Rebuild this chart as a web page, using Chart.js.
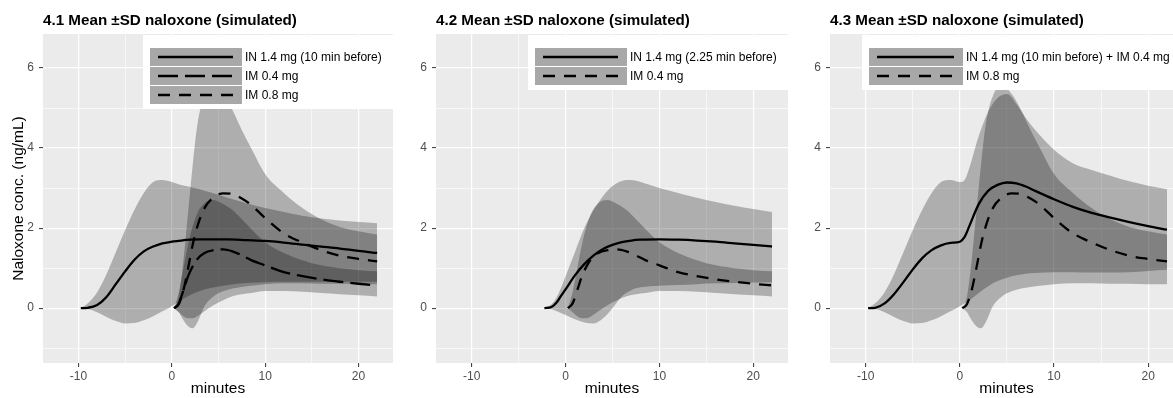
<!DOCTYPE html>
<html>
<head>
<meta charset="utf-8">
<script src="https://cdn.jsdelivr.net/npm/chart.js@4/dist/chart.umd.min.js"></script>
<style>
html, body { margin:0; padding:0; background:#fff; overflow:hidden; width:1173px; height:398px; }
.panel { position:absolute; top:0; }
</style>
</head>
<body>
<div class="panel" style="left:0px"><canvas id="c1" width="400" height="398"></canvas></div>
<div class="panel" style="left:400px"><canvas id="c2" width="395" height="398"></canvas></div>
<div class="panel" style="left:795px"><canvas id="c3" width="388" height="398"></canvas></div>
<script>
//---------------------------------------------DATA-------------------------------------------------
// minutes relative to the IM dose; values in ng/mL (mean, mean+SD, mean-SD)

var tIM     = [0.25, 0.75, 1.25, 1.75, 2.25, 2.75, 3.5, 4.5, 5.5, 6.5, 7.5, 8.5, 10, 12, 14, 16, 18, 20, 22];
var im04Mean = [0, 0.12, 0.45, 0.8, 1.05, 1.23, 1.38, 1.45, 1.47, 1.42, 1.32, 1.2, 1.07, 0.9, 0.8, 0.72, 0.66, 0.61, 0.57];
var im04Hi   = [0, 0.4, 1.0, 1.6, 2.05, 2.38, 2.62, 2.7, 2.6, 2.45, 2.22, 1.98, 1.65, 1.38, 1.2, 1.07, 1.0, 0.95, 0.92];
var im04Lo   = [0, -0.1, -0.2, -0.25, -0.25, -0.2, -0.08, 0.08, 0.2, 0.3, 0.35, 0.38, 0.43, 0.43, 0.41, 0.38, 0.35, 0.32, 0.29];
var im08Mean = [0, 0.1, 0.45, 1.0, 1.6, 2.05, 2.5, 2.77, 2.87, 2.85, 2.74, 2.58, 2.25, 1.87, 1.64, 1.45, 1.31, 1.23, 1.17];
var im08Hi   = [0, 0.3, 1.2, 2.4, 3.6, 4.6, 5.3, 5.55, 5.35, 4.95, 4.45, 4.0, 3.35, 2.88, 2.5, 2.22, 2.03, 1.92, 1.84];
var im08Lo   = [0, -0.1, -0.3, -0.45, -0.5, -0.35, 0.05, 0.3, 0.42, 0.49, 0.53, 0.56, 0.6, 0.62, 0.62, 0.61, 0.61, 0.6, 0.6];

var tIN10    = [-9.75, -9, -8, -7, -6, -5, -4, -3, -2, -1, 0, 1, 2, 3, 4, 6, 8, 10, 12, 14, 16, 18, 20, 22];
var in10Mean = [0, 0.01, 0.08, 0.28, 0.6, 0.92, 1.21, 1.42, 1.54, 1.62, 1.66, 1.69, 1.71, 1.72, 1.72, 1.72, 1.7, 1.68, 1.64, 1.59, 1.54, 1.49, 1.43, 1.38];
var in10Hi   = [0, 0.12, 0.4, 0.85, 1.4, 1.95, 2.46, 2.88, 3.15, 3.2, 3.15, 3.08, 3.03, 2.97, 2.9, 2.76, 2.62, 2.5, 2.4, 2.31, 2.24, 2.19, 2.15, 2.12];
var in10Lo   = [0, -0.02, -0.1, -0.22, -0.32, -0.38, -0.37, -0.3, -0.2, -0.08, 0.05, 0.2, 0.33, 0.43, 0.5, 0.58, 0.63, 0.65, 0.66, 0.66, 0.66, 0.66, 0.66, 0.66];

var tIN225    = [-2.25, -1.5, -1, -0.5, 0, 1, 2, 3, 4, 5, 6, 7, 8, 10, 12, 14, 16, 18, 20, 22];
var in225Mean = [0, 0.03, 0.13, 0.3, 0.47, 0.82, 1.1, 1.32, 1.48, 1.58, 1.65, 1.69, 1.71, 1.72, 1.71, 1.69, 1.66, 1.62, 1.58, 1.54];
var in225Hi   = [0, 0.1, 0.25, 0.5, 0.8, 1.4, 2.0, 2.45, 2.8, 3.05, 3.18, 3.2, 3.15, 3.0, 2.88, 2.76, 2.65, 2.56, 2.48, 2.4];
var in225Lo   = [0, -0.03, -0.07, -0.12, -0.17, -0.28, -0.36, -0.38, -0.25, 0.0, 0.3, 0.45, 0.52, 0.56, 0.58, 0.6, 0.62, 0.63, 0.64, 0.65];

var tCombo    = [-9.75, -9, -8, -7, -6, -5, -4, -3, -2, -1, 0, 0.5, 1, 2, 3, 4, 5, 6, 7, 8, 10, 12, 14, 16, 18, 20, 22];
var comboMean = [0, 0.01, 0.12, 0.35, 0.65, 0.97, 1.25, 1.45, 1.57, 1.63, 1.66, 1.78, 2.05, 2.6, 2.93, 3.08, 3.14, 3.12, 3.04, 2.93, 2.72, 2.53, 2.38, 2.26, 2.15, 2.05, 1.96];
var comboHi   = [0, 0.12, 0.4, 0.85, 1.4, 1.95, 2.46, 2.88, 3.15, 3.2, 3.15, 3.2, 3.5, 4.3, 4.9, 5.25, 5.35, 5.1, 4.75, 4.45, 3.96, 3.62, 3.45, 3.31, 3.17, 3.06, 2.97];
var comboLo   = [0, -0.02, -0.1, -0.22, -0.32, -0.38, -0.37, -0.3, -0.2, -0.08, 0.05, 0.12, 0.2, 0.38, 0.55, 0.68, 0.76, 0.82, 0.86, 0.88, 0.9, 0.9, 0.89, 0.89, 0.9, 0.93, 0.96];

var xMajor = [-10, 0, 10, 20];
var xMinor = [-5, 5, 15];
var yMajor = [0, 2, 4, 6];
var yMinor = [-1, 1, 3, 5];

var titles = ["4.1 Mean \u00b1SD naloxone (simulated)", "4.2 Mean \u00b1SD naloxone (simulated)", "4.3 Mean \u00b1SD naloxone (simulated)"];
var xLabel = "minutes";
var yLabel = "Naloxone conc. (ng/mL)";

//--------------------------------------------HELPERS-----------------------------------------------

var LONG = [20, 7];
var SHORT = [12, 9];
var FONT = '"Liberation Sans", Arial, Helvetica, sans-serif';
Chart.defaults.font.family = FONT;

function pts(t, v) {
    return t.map(function(x, i) { return { x: x, y: v[i] }; });
}

function buildDatasets(series) {
    var ds = [];
    // mean lines first so they end up drawn on top
    series.forEach(function(s) {
        ds.push({ label: s.label, data: pts(s.t, s.mean), borderColor: '#000', borderWidth: 2.3,
                  borderDash: s.dash, borderCapStyle: 'butt', pointRadius: 0, fill: false,
                  cubicInterpolationMode: 'monotone' });
    });
    series.forEach(function(s) {
        ds.push({ label: '', data: pts(s.t, s.lo), borderColor: 'rgba(0,0,0,0)', borderWidth: 0,
                  pointRadius: 0, fill: false, cubicInterpolationMode: 'monotone' });
        ds.push({ label: '', data: pts(s.t, s.hi), borderColor: 'rgba(0,0,0,0)', borderWidth: 0,
                  pointRadius: 0, fill: '-1', backgroundColor: 'rgba(0,0,0,0.26)',
                  cubicInterpolationMode: 'monotone' });
    });
    return ds;
}

var panelBg = {
    id: 'panelBg',
    beforeDraw: function(chart) {
        var a = chart.chartArea, ctx = chart.ctx;
        ctx.save();
        ctx.fillStyle = '#ebebeb';
        ctx.fillRect(a.left, a.top, a.right - a.left, a.bottom - a.top);
        ctx.restore();
    }
};

var panelTitle = {
    id: 'panelTitle',
    afterDraw: function(chart, args, opts) {
        var ctx = chart.ctx;
        ctx.save();
        ctx.font = 'bold 15.2px ' + FONT;
        ctx.fillStyle = '#000';
        ctx.textBaseline = 'alphabetic';
        ctx.fillText(opts.text, chart.chartArea.left, 25);
        ctx.restore();
    }
};

var keyLegend = {
    id: 'keyLegend',
    afterDatasetsDraw: function(chart, args, opts) {
        var ctx = chart.ctx, a = chart.chartArea;
        var items = chart.data.datasets.filter(function(d) { return d.label; });
        var x0 = a.left + opts.offsetX, y0 = a.top + 1;
        var h = 13 + items.length * 19 + 4;
        ctx.save();
        ctx.fillStyle = '#fff';
        ctx.fillRect(x0, y0, a.right - x0, h);
        items.forEach(function(d, i) {
            var ky = y0 + 13 + i * 19;
            ctx.fillStyle = 'rgba(0,0,0,0.34)';
            ctx.fillRect(x0 + 7, ky, opts.keyW, 18);
            ctx.strokeStyle = '#000';
            ctx.lineWidth = 2.3;
            ctx.lineCap = 'butt';
            ctx.setLineDash(d.borderDash || []);
            ctx.beginPath();
            ctx.moveTo(x0 + 15, ky + 9);
            ctx.lineTo(x0 + 7 + opts.keyW - 9, ky + 9);
            ctx.stroke();
            ctx.setLineDash([]);
            ctx.fillStyle = '#000';
            ctx.font = '12px ' + FONT;
            ctx.textBaseline = 'middle';
            ctx.fillText(d.label, x0 + 7 + opts.keyW + 3, ky + 10);
        });
        ctx.restore();
    }
};

function makeScales(yWidth, showYTitle) {
    var gridX = {
        color: '#fff',
        lineWidth: function(c) { return xMajor.indexOf(c.tick.value) >= 0 ? 1.2 : 0.6; },
        tickColor: function(c) { return xMajor.indexOf(c.tick.value) >= 0 ? '#333' : 'rgba(0,0,0,0)'; },
        tickLength: 4, tickWidth: 1
    };
    var gridY = {
        color: '#fff',
        lineWidth: function(c) { return yMajor.indexOf(c.tick.value) >= 0 ? 1.2 : 0.6; },
        tickColor: function(c) { return yMajor.indexOf(c.tick.value) >= 0 ? '#333' : 'rgba(0,0,0,0)'; },
        tickLength: 4, tickWidth: 1
    };
    return {
        x: {
            type: 'linear', min: -13.8, max: 23.7,
            afterBuildTicks: function(s) {
                s.ticks = xMajor.concat(xMinor).sort(function(a, b) { return a - b; })
                                .map(function(v) { return { value: v }; });
            },
            afterFit: function(s) { s.height = 35; },
            grid: gridX,
            border: { display: false },
            ticks: {
                autoSkip: false, maxRotation: 0, padding: 2, color: '#4d4d4d', font: { size: 12 },
                callback: function(v) { return xMajor.indexOf(v) >= 0 ? String(v) : ''; }
            },
            title: { display: true, text: xLabel, color: '#000', font: { size: 15.5 }, padding: { top: 0, bottom: 0 } }
        },
        y: {
            type: 'linear', min: -1.37, max: 6.85,
            afterBuildTicks: function(s) {
                s.ticks = yMajor.concat(yMinor).sort(function(a, b) { return a - b; })
                                .map(function(v) { return { value: v }; });
            },
            afterFit: function(s) { s.width = yWidth; },
            grid: gridY,
            border: { display: false },
            ticks: {
                autoSkip: false, padding: 5, color: '#4d4d4d', font: { size: 12 },
                callback: function(v) { return yMajor.indexOf(v) >= 0 ? String(v) : ''; }
            },
            title: { display: showYTitle, text: yLabel, color: '#000', font: { size: 15.5 }, padding: { top: 9, bottom: 0 } }
        }
    };
}

function makeChart(id, series, title, yWidth, showYTitle, rightPad, legendOffset, keyW) {
    return new Chart(document.getElementById(id), {
        type: 'line',
        data: { datasets: buildDatasets(series) },
        options: {
            responsive: false, animation: false, devicePixelRatio: 1,
            layout: { padding: { top: 34, right: rightPad, left: 0, bottom: 0 } },
            scales: makeScales(yWidth, showYTitle),
            plugins: {
                legend: { display: false },
                tooltip: { enabled: false },
                panelTitle: { text: title },
                keyLegend: { offsetX: legendOffset, keyW: keyW }
            }
        },
        plugins: [panelBg, panelTitle, keyLegend]
    });
}

//--------------------------------------------CHARTS------------------------------------------------

makeChart('c1', [
    { label: 'IN 1.4 mg (10 min before)', t: tIN10, mean: in10Mean, hi: in10Hi, lo: in10Lo, dash: [] },
    { label: 'IM 0.4 mg', t: tIM, mean: im04Mean, hi: im04Hi, lo: im04Lo, dash: LONG },
    { label: 'IM 0.8 mg', t: tIM, mean: im08Mean, hi: im08Hi, lo: im08Lo, dash: SHORT }
], titles[0], 43, true, 7, 100, 92);

makeChart('c2', [
    { label: 'IN 1.4 mg (2.25 min before)', t: tIN225, mean: in225Mean, hi: in225Hi, lo: in225Lo, dash: [] },
    { label: 'IM 0.4 mg', t: tIM, mean: im04Mean, hi: im04Hi, lo: im04Lo, dash: SHORT }
], titles[1], 36, false, 7, 92, 92);

makeChart('c3', [
    { label: 'IN 1.4 mg (10 min before) + IM 0.4 mg', t: tCombo, mean: comboMean, hi: comboHi, lo: comboLo, dash: [] },
    { label: 'IM 0.8 mg', t: tIM, mean: im08Mean, hi: im08Hi, lo: im08Lo, dash: SHORT }
], titles[2], 35, false, 0, 32, 94);
</script>
</body>
</html>
